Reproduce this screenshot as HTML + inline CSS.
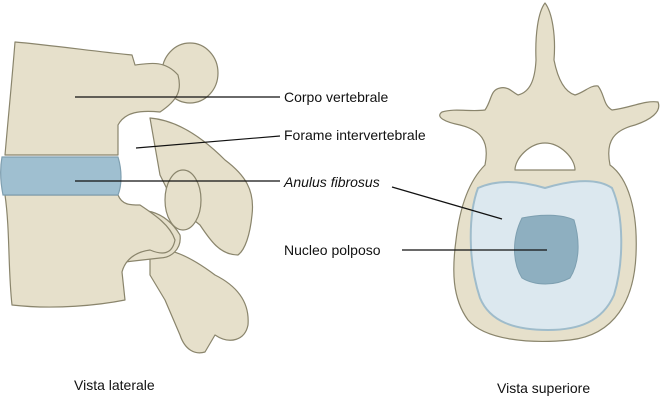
<!DOCTYPE html>
<html><head><meta charset="utf-8"><style>
html,body{margin:0;padding:0;background:#fff;}
svg{display:block;}
text{font-family:"Liberation Sans",sans-serif;font-size:14px;fill:#111;}
</style></head><body>
<svg width="662" height="400" viewBox="0 0 662 400">
<g stroke="#8a856c" stroke-width="1.2" fill="#e6e0cb" stroke-linejoin="round">
<path d="M150,118 C175,120 200,135 225,160 C245,175 255,190 252,215 C250,235 245,250 238,255 C220,255 210,240 200,225 L175,205 L160,175 Z"/>
<path d="M150,250 C170,245 195,260 215,275 C235,285 250,300 248,325 C245,340 230,345 215,335 L205,352 C195,355 185,350 180,335 L165,300 L150,275 Z"/>
<ellipse cx="183" cy="200" rx="18" ry="30"/>
<path d="M118,215 C140,205 165,210 180,235 C182,250 170,258 160,258 L125,262 Z"/>
<ellipse cx="190" cy="73" rx="28" ry="30"/>
<path d="M15,42 C50,45 100,52 132,55 L135,65 C150,63 165,60 178,75 C182,90 178,100 160,112 C140,110 125,112 118,125 L118,155 L5,155 C8,120 12,80 15,42 Z"/>
<path d="M5,195 L118,195 C122,205 130,205 140,205 C155,215 170,225 175,240 C172,255 162,255 150,250 C135,252 125,260 122,272 L125,300 C100,305 55,310 12,305 C8,270 10,230 5,195 Z"/>
</g>
<path d="M2,157 L118,157 C122,170 122,185 118,195 L3,195 C0,180 0,168 2,157 Z" fill="#9fbfd0" stroke="#7f9fb0" stroke-width="1.2"/>
<g stroke="#8a856c" stroke-width="1.2" fill="#e6e0cb" stroke-linejoin="round">
<path d="M545,3 C552,12 556,35 554,60 C558,80 565,92 575,95 C585,92 590,85 598,86 C605,95 603,105 612,110 C630,108 645,100 658,102 C662,112 650,120 635,125 C615,130 605,140 610,165 C628,178 638,210 636,255 C634,300 615,335 570,340 C530,344 485,340 468,320 C452,298 452,270 456,240 C460,205 470,180 485,165 C490,140 480,130 460,125 C445,122 435,117 442,112 C455,108 470,112 485,110 C492,100 490,90 500,88 C508,86 512,92 518,95 C530,92 535,80 536,60 C535,35 538,12 545,3 Z"/>
<path d="M545,143 C560,143 575,158 575,170 L515,170 C515,158 530,143 545,143 Z" fill="#fff"/>
</g>
<path d="M478,188 C500,178 525,182 545,188 C565,182 595,176 612,188 C624,215 624,262 614,295 C602,322 578,330 548,330 C515,330 490,322 480,298 C468,262 468,215 478,188 Z" fill="#dce8ef" stroke="#9fbccb" stroke-width="2"/>
<path d="M522,218 C540,214 562,214 574,220 C580,240 580,262 570,278 C555,286 535,286 522,278 C512,262 512,238 522,218 Z" fill="#8eafc0" stroke="#7d9fb0" stroke-width="1"/>
<g stroke="#111" stroke-width="1.2">
<line x1="75" y1="97" x2="280" y2="97"/>
<line x1="136" y1="148" x2="280" y2="136"/>
<line x1="75" y1="181" x2="280" y2="181"/>
<line x1="392" y1="187" x2="502" y2="219"/>
<line x1="402" y1="250" x2="547" y2="250"/>
</g>
<text x="284" y="102">Corpo vertebrale</text>
<text x="284" y="140">Forame intervertebrale</text>
<text x="284" y="187" font-style="italic">Anulus fibrosus</text>
<text x="284" y="255">Nucleo polposo</text>
<text x="74" y="390">Vista laterale</text>
<text x="497" y="393">Vista superiore</text>
</svg>
</body></html>
